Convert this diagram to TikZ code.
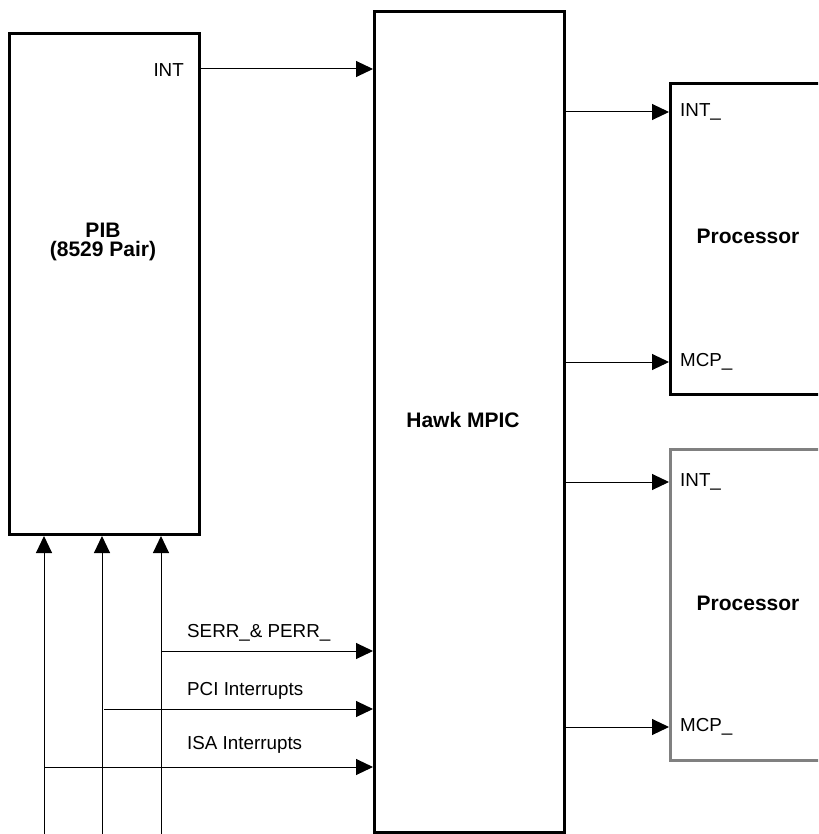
\documentclass[tikz,border=0pt]{standalone}
\usepackage{fontspec}
\setmainfont{Liberation Sans}
\usetikzlibrary{arrows.meta}
\tikzset{
  box/.style={draw=black, line width=3pt, rectangle, inner sep=0pt, anchor=north west},
  greybox/.style={box, draw=black!50, line width=2.5pt},
  arr/.style={line width=1pt, -{Triangle[length=17pt,width=16pt]}},
  sig/.style={font=\fontsize{18.8}{21}\selectfont, inner sep=0pt},
  title/.style={font=\fontsize{21}{19}\selectfont\bfseries, align=center, inner sep=0pt},
}
\begin{document}
\begin{tikzpicture}[x=1pt,y=-1pt]
\useasboundingbox (0,0) rectangle (818,834);
\clip (0,0) rectangle (818,834);
% boxes
\node[box, minimum width=190pt, minimum height=501pt] (PIB) at (8,32) {};
\node[box, minimum width=190pt, minimum height=821pt] (MPIC) at (373,10) {};
\node[box, minimum width=180pt, minimum height=311pt] (P1) at (669,82) {};
\node[greybox, minimum width=180pt, minimum height=311pt] (P2) at (669,448) {};
% titles
\node[title] (tPIB) at (103,242) {PIB\\(8529 Pair)};
\node[title] (tMPIC) at (463,420) {Hawk MPIC};
\node[title] (tP1) at (748,236) {Processor};
\node[title] (tP2) at (748,603) {Processor};
% PIB INT
\node[sig, anchor=east] (lINT) at (184,70) {INT};
\draw[arr] (PIB.east |- 0,69) -- (MPIC.west |- 0,69);
% processor inputs
\draw[arr] (MPIC.east |- 0,112) -- (P1.west |- 0,112);
\draw[arr] (MPIC.east |- 0,362) -- (P1.west |- 0,362);
\draw[arr] (MPIC.east |- 0,482) -- (P2.west |- 0,482);
\draw[arr] (MPIC.east |- 0,727) -- (P2.west |- 0,727);
\node[sig, anchor=west] (l1) at (680,112) {INT\_};
\node[sig, anchor=west] (l2) at (680,362) {MCP\_};
\node[sig, anchor=west] (l3) at (680,482) {INT\_};
\node[sig, anchor=west] (l4) at (680,727) {MCP\_};
% bottom inputs
\coordinate (b1) at (44,840);
\coordinate (b2) at (102,840);
\coordinate (b3) at (161,840);
\draw[arr] (b1) -- (b1 |- PIB.south);
\draw[arr] (b2) -- (b2 |- PIB.south);
\draw[arr] (b3) -- (b3 |- PIB.south);
\draw[arr] (b3 |- 0,651) -- (MPIC.west |- 0,651);
\draw[arr] (104,709) -- (MPIC.west |- 0,709);
\draw[arr] (b1 |- 0,767) -- (MPIC.west |- 0,767);
\node[sig, anchor=west] (lS) at (187,633) {SERR\_\& PERR\_};
\node[sig, anchor=west] (lP) at (187,691) {PCI Interrupts};
\node[sig, anchor=west] (lI) at (187,745) {ISA Interrupts};
\end{tikzpicture}
\end{document}
